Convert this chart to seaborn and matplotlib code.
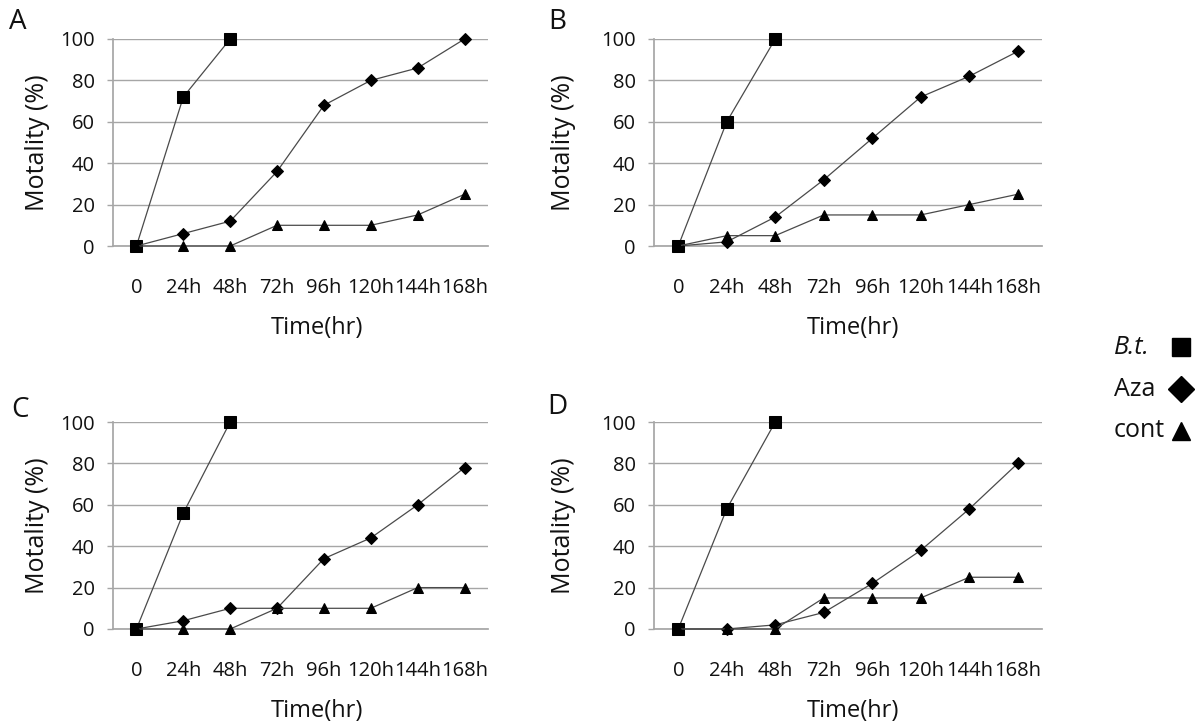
import numpy as np
import pandas as pd
import matplotlib
matplotlib.use("Agg")
import matplotlib.pyplot as plt
from matplotlib.lines import Line2D
import seaborn as sns

# ==================================================
# DATA
# ==================================================

time_labels = ["0", "24h", "48h", "72h", "96h", "120h", "144h", "168h"]
panels = ["A", "B", "C", "D"]

bt_A = [0, 72, 100]
aza_A = [0, 6, 12, 36, 68, 80, 86, 100]
cont_A = [0, 0, 0, 10, 10, 10, 15, 25]

bt_B = [0, 60, 100]
aza_B = [0, 2, 14, 32, 52, 72, 82, 94]
cont_B = [0, 5, 5, 15, 15, 15, 20, 25]

bt_C = [0, 56, 100]
aza_C = [0, 4, 10, 10, 34, 44, 60, 78]
cont_C = [0, 0, 0, 10, 10, 10, 20, 20]

bt_D = [0, 58, 100]
aza_D = [0, 0, 2, 8, 22, 38, 58, 80]
cont_D = [0, 0, 0, 15, 15, 15, 25, 25]

series_names = ["B.t.", "Aza", "cont"]

data = {
    "A": [bt_A, aza_A, cont_A],
    "B": [bt_B, aza_B, cont_B],
    "C": [bt_C, aza_C, cont_C],
    "D": [bt_D, aza_D, cont_D],
}

# ==================================================
# STYLE
# ==================================================

sns.set_theme(style="white")
plt.rcParams["font.family"] = ["Open Sans", "DejaVu Sans"]

W, H = 1202, 726
fig = plt.figure(figsize=(W / 100, H / 100), dpi=100)

def px_rect(x0, y0, x1, y1):
    return [x0 / W, 1 - y1 / H, (x1 - x0) / W, (y1 - y0) / H]

# pixel boxes of each plot area (left, top, right, bottom)
boxes = {
    "A": (113, 39, 488, 246),
    "B": (654, 39, 1042, 246),
    "C": (113, 422, 488, 629),
    "D": (654, 422, 1042, 629),
}
letter_pos = {"A": (18, 22), "B": (557, 22), "C": (20, 410), "D": (557, 407)}
ylabel_x = {"A": 38, "B": 563, "C": 37, "D": 563}
xlabel_x = {"A": 317, "B": 853, "C": 317, "D": 853}

markers = ["s", "D", "^"]
msizes = [8, 6, 7.5]
line_col = "#4a4a4a"
grid_col = "#a6a6a6"
txt_col = "#111111"

for p in panels:
    x0, y0, x1, y1 = boxes[p]
    ax = fig.add_axes(px_rect(x0, y0, x1, y1))

    for name, vals, m, ms in zip(series_names, data[p], markers, msizes):
        df = pd.DataFrame({"t": np.arange(len(vals)), "v": vals})
        sns.lineplot(data=df, x="t", y="v", ax=ax, color=line_col, lw=0.9,
                     marker=m, markersize=ms, markerfacecolor="black",
                     markeredgecolor="black", zorder=3, clip_on=False)

    ax.set_xlim(-0.5, 7.5)
    ax.set_ylim(0, 100)
    ax.set_yticks([0, 20, 40, 60, 80, 100])
    ax.yaxis.grid(True, color=grid_col, lw=1)
    ax.xaxis.grid(False)
    for s in ["top", "right"]:
        ax.spines[s].set_visible(False)
    ax.spines["left"].set_color(grid_col)
    ax.spines["bottom"].set_color(grid_col)

    ax.set_xticks(range(8))
    ax.set_xticklabels(time_labels)
    ax.set_xticks(np.arange(-0.5, 8, 1), minor=True)
    ax.tick_params(axis="x", which="major", length=0, pad=23, labelsize=14.5, colors=txt_col)
    ax.tick_params(axis="x", which="minor", length=7, width=1, color=grid_col, direction="out")
    ax.tick_params(axis="y", length=4, width=1, color=grid_col, pad=9, labelsize=14.5,
                   labelcolor=txt_col, left=True)
    ax.set_xlabel("")
    ax.set_ylabel("")

    fig.text(ylabel_x[p] / W, 1 - ((y0 + y1) / 2) / H, "Motality (%)", rotation=90,
             ha="center", va="center", fontsize=18, color=txt_col)
    fig.text(xlabel_x[p] / W, 1 - (y1 + 82) / H, "Time(hr)", ha="center", va="center",
             fontsize=17, color=txt_col)
    lx, ly = letter_pos[p]
    fig.text(lx / W, 1 - ly / H, p, ha="center", va="center", fontsize=20, color=txt_col)

# ==================================================
# LEGEND (drawn by hand, labels left, markers right)
# ==================================================

legend_y = [347, 389, 431]
legend_ms = [13.5, 13, 13.5]
for name, m, ms, yy in zip(series_names, markers, legend_ms, legend_y):
    fig.text(1114 / W, 1 - yy / H, name, ha="left", va="center", fontsize=18,
             color=txt_col, style="italic" if name == "B.t." else "normal")
    fig.add_artist(Line2D([1181 / W], [1 - yy / H], transform=fig.transFigure,
                          ls="none", marker=m, markersize=ms, color="black"))

fig.savefig("out.png", dpi=100)
